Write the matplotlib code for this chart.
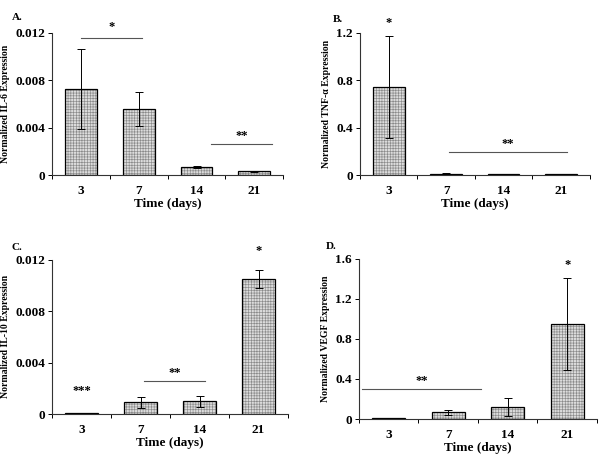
import matplotlib
matplotlib.use("Agg")
import matplotlib.pyplot as plt
import numpy as np

plt.rcParams["font.family"] = ["Liberation Serif", "DejaVu Serif"]
plt.rcParams["font.weight"] = "bold"
plt.rcParams["hatch.linewidth"] = 0.45

days = ["3", "7", "14", "21"]

il6 = [0.00727, 0.00558, 0.0007, 0.0003]
il6_err = [0.0034, 0.00146, 0.0001, 0.00005]
tnf = [0.741, 0.008, 0.007, 0.007]
tnf_err = [0.43, 0.012, 0.0, 0.0]
il10 = [0.0001, 0.00092, 0.00099, 0.01048]
il10_err = [0.0, 0.00042, 0.00043, 0.0007]
vegf = [0.009, 0.068, 0.123, 0.948]
vegf_err = [0.0, 0.027, 0.092, 0.46]

ylabels = ["Normalized IL-6 Expression", "Normalized TNF-\u03b1 Expression",
           "Normalized IL-10 Expression", "Normalized VEGF Expression"]
panel_tags = ["A.", "B.", "C.", "D."]
ytick_sets = [[0, 0.004, 0.008, 0.012], [0, 0.4, 0.8, 1.2],
              [0, 0.004, 0.008, 0.012], [0, 0.4, 0.8, 1.2, 1.6]]
ytick_text = [["0", "0.004", "0.008", "0.012"], ["0", "0.4", "0.8", "1.2"],
              ["0", "0.004", "0.008", "0.012"], ["0", "0.4", "0.8", "1.2", "1.6"]]

# significance bars: (x0, x1, y, label) in data units
sig = [
    [(0, 1.05, 0.0116, "*"), (2.25, 3.3, 0.0026, "**")],
    [(1.05, 3.1, 0.197, "**"), (0, 0, None, "*")],
    [(1.05, 2.1, 0.00254, "**"), (0, 0, None, "***"), (3, 3, None, "*")],
    [(-0.45, 1.55, 0.30, "**"), (3, 3, None, "*")],
]
star_y = [[0.0120, 0.0028], [0.215, 1.23], [0.0027, 0.0013, 0.0122], [0.32, 1.48]]

boxes = [(0.087, 0.617, 0.385, 0.311), (0.600, 0.617, 0.383, 0.311),
         (0.087, 0.094, 0.393, 0.338), (0.598, 0.083, 0.397, 0.351)]
tag_pos = [(0.02, 0.972), (0.555, 0.968), (0.02, 0.468), (0.543, 0.47)]

fig = plt.figure(figsize=(6.0, 4.57), dpi=100)
series = [(il6, il6_err), (tnf, tnf_err), (il10, il10_err), (vegf, vegf_err)]
x = np.arange(len(days))
for i, (vals, errs) in enumerate(series):
    ax = fig.add_axes(boxes[i])
    ax.bar(x, vals, width=0.55, color="#dcdcdc", edgecolor="#8a8a8a", hatch="++++++", lw=0)
    ax.bar(x, vals, width=0.55, fill=False, edgecolor="black", lw=0.9)
    ax.errorbar(x, vals, yerr=errs, fmt="none", ecolor="black", elinewidth=0.7, capsize=3, capthick=0.7)
    ax.set_xlim(-0.5, 3.5)
    ax.set_ylim(0, ytick_sets[i][-1])
    ax.set_yticks(ytick_sets[i])
    ax.set_yticklabels(ytick_text[i], fontsize=9.5, fontweight="bold")
    ax.set_xticks(x)
    ax.set_xticklabels(days, fontsize=9.5, fontweight="bold")
    ax.tick_params(axis="x", length=0, pad=7)
    ax.set_xticks(np.arange(-0.5, 4.0, 1.0), minor=True)
    ax.tick_params(axis="x", which="minor", length=3, direction="out", width=0.7)
    ax.tick_params(axis="y", length=3, direction="out", width=0.7, pad=2)
    for s in ["top", "right"]:
        ax.spines[s].set_visible(False)
    for s in ["left", "bottom"]:
        ax.spines[s].set_linewidth(0.8)
        ax.spines[s].set_color("#333333")
    ax.set_xlabel("Time (days)", fontsize=9.5, fontweight="bold", labelpad=1)
    ax.set_ylabel(ylabels[i], fontsize=7, fontweight="bold", labelpad=4)
    for j, (x0, x1, yl, lab) in enumerate(sig[i]):
        if yl is not None:
            ax.plot([x0, x1], [yl, yl], color="#555555", lw=0.8, clip_on=False)
        ax.text((x0 + x1) / 2, star_y[i][j], lab, ha="center", va="bottom",
                fontsize=9, fontweight="bold", clip_on=False)
    fig.text(tag_pos[i][0], tag_pos[i][1], panel_tags[i], fontsize=8, fontweight="bold", va="top")

fig.savefig("out.png", dpi=100)
